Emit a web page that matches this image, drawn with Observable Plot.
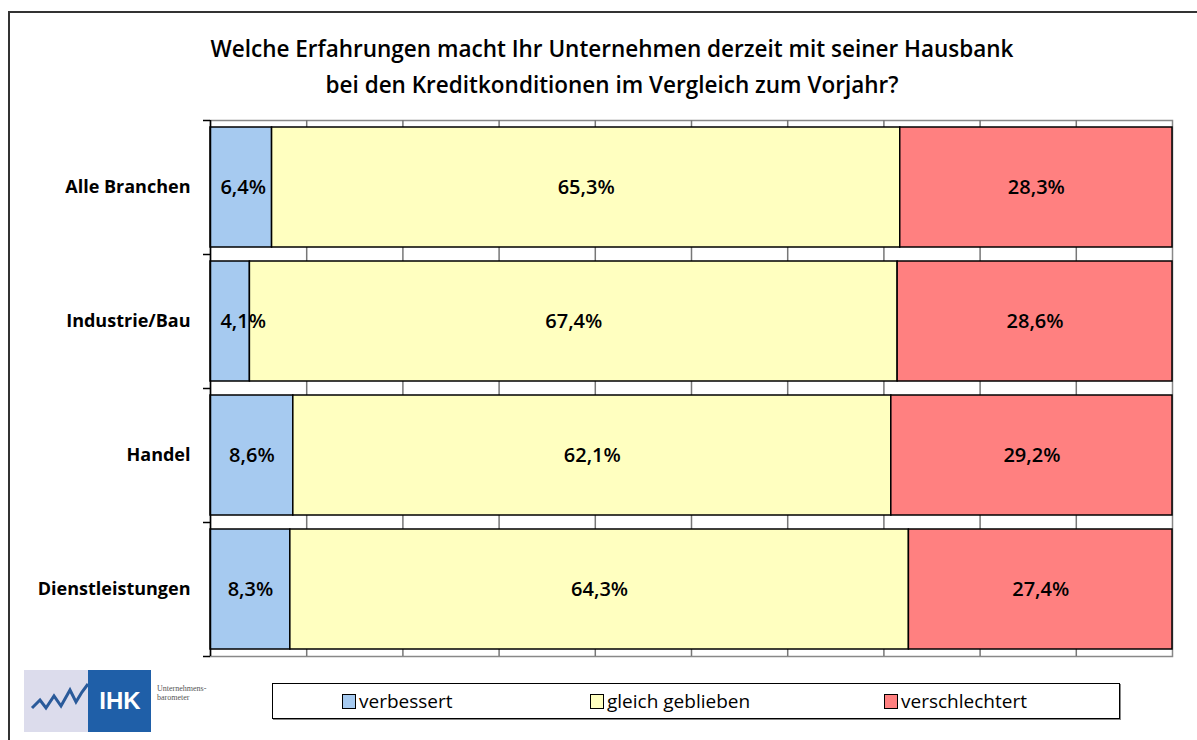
<!DOCTYPE html>
<html>
<head>
<meta charset="utf-8">
<script src="https://cdn.jsdelivr.net/npm/d3@7"></script>
<script src="https://cdn.jsdelivr.net/npm/@observablehq/plot@0.6"></script>
<style>
  html, body { margin: 0; padding: 0; background: #fff; }
  #page { position: relative; width: 1197px; height: 740px; overflow: hidden; font-family: "Open Sans", sans-serif; background: #fff; }
  #border { position: absolute; left: 8px; top: 11px; width: 1300px; height: 800px; border: 2px solid #333; box-sizing: border-box; }
  #title { position: absolute; left: 200px; width: 824px; top: 31px; text-align: center; font-weight: 600; font-size: 22.5px; line-height: 36px; color: #000; }
  #chart { position: absolute; left: 0; top: 100px; }
  #legend { position: absolute; left: 272px; top: 683px; width: 848px; height: 36px; border: 1px solid #000; box-sizing: border-box; box-shadow: 1px 1px 0 #888; background: #fff; }
  .item { position: absolute; top: 5px; font-size: 19px; line-height: 24px; color: #000; }
  .sw { display: inline-block; width: 12px; height: 13px; border: 1.5px solid #000; vertical-align: -1px; margin-right: 3px; }
  #logo { position: absolute; left: 24px; top: 670px; }
</style>
</head>
<body>
<div id="page">
  <div id="border"></div>
  <div id="title">Welche Erfahrungen macht Ihr Unternehmen derzeit mit seiner Hausbank<br>bei den Kreditkonditionen im Vergleich zum Vorjahr?</div>
  <div id="chart"></div>
  <svg id="logo" width="215" height="62" viewBox="0 0 215 62">
    <rect x="0" y="0" width="66" height="62" fill="#dcdcec"/>
    <polyline points="8,38 16,30 22,38 30,26 37,36 46,20 52,32 58,22 64,14" fill="none" stroke="#2a5a9a" stroke-width="3"/>
    <rect x="64" y="0" width="63" height="62" fill="#1f5fa8"/>
    <text x="96" y="39" fill="#fff" font-family="Liberation Sans, Arial, sans-serif" font-weight="bold" font-size="24" text-anchor="middle">IHK</text>
    <text x="133" y="21" fill="#555" font-family="Liberation Serif, serif" font-size="8">Unternehmens-</text>
    <text x="133" y="30" fill="#555" font-family="Liberation Serif, serif" font-size="8">barometer</text>
  </svg>
  <div id="legend">
    <div class="item" style="left:69px"><span class="sw" style="background:#a6caf0"></span>verbessert</div>
    <div class="item" style="left:317px"><span class="sw" style="background:#ffffc0"></span>gleich geblieben</div>
    <div class="item" style="left:611px"><span class="sw" style="background:#ff8080"></span>verschlechtert</div>
  </div>
</div>
<script>
const categories = ["Alle Branchen", "Industrie/Bau", "Handel", "Dienstleistungen"];
const series = ["verbessert", "gleich geblieben", "verschlechtert"];
const colors = ["#a6caf0", "#ffffc0", "#ff8080"];
const verbessert = [6.4, 4.1, 8.6, 8.3];
const gleich = [65.3, 67.4, 62.1, 64.3];
const verschlechtert = [28.3, 28.6, 29.2, 27.4];
const xTicks = [0, 0.1, 0.2, 0.3, 0.4, 0.5, 0.6, 0.7, 0.8, 0.9, 1];

const seriesValues = [verbessert, gleich, verschlechtert];
const data = [];
categories.forEach((c, i) => {
  series.forEach((s, j) => {
    data.push({ cat: c, series: s, value: seriesValues[j][i] });
  });
});
const fmt = v => v.toFixed(1).replace(".", ",") + "%";
// keep narrow-segment labels inside the plot area (as the original does)
const minLabelX = 0.034;

const chart = Plot.plot({
  width: 1197,
  height: 566,
  marginLeft: 210,
  marginRight: 25,
  marginTop: 20,
  marginBottom: 10,
  style: { fontFamily: "Open Sans, sans-serif", background: "transparent", overflow: "visible" },
  x: { domain: [0, 1], axis: null },
  y: { domain: categories, paddingInner: 0.104, paddingOuter: 0.052, axis: null },
  color: { domain: series, range: colors },
  marks: [
    Plot.frame({ stroke: "#888", strokeWidth: 1.5, fill: "#fff" }),
    Plot.ruleX(xTicks.slice(1, -1), { stroke: "#777", strokeWidth: 1.5 }),
    Plot.barX(data, Plot.stackX({
      x: "value", y: "cat", fill: "series", order: series, offset: "normalize",
      stroke: "#000", strokeWidth: 1.5
    })),
    Plot.text(data, Plot.map(
      { x: vals => Array.from(vals, v => Math.max(v, minLabelX)) },
      Plot.stackX({
        x: "value", y: "cat", z: "series", order: series, offset: "normalize",
        text: d => fmt(d.value), fill: "#000", fontSize: 20, fontWeight: 600
      })
    )),
    Plot.ruleX([0], { stroke: "#000", strokeWidth: 1.5 }),
    Plot.ruleY(categories, { y: d => d, x1: -0.0073, x2: 0, dy: -67, stroke: "#000", strokeWidth: 1.5 }),
    Plot.ruleY(categories.slice(-1), { y: d => d, x1: -0.0073, x2: 0, dy: 67, stroke: "#000", strokeWidth: 1.5 }),
    Plot.axisY({ tickSize: 0, tickPadding: 20, fontSize: 18, fontWeight: "bold", fill: "#000", label: null })
  ]
});
document.getElementById("chart").appendChild(chart);
</script>
</body>
</html>
